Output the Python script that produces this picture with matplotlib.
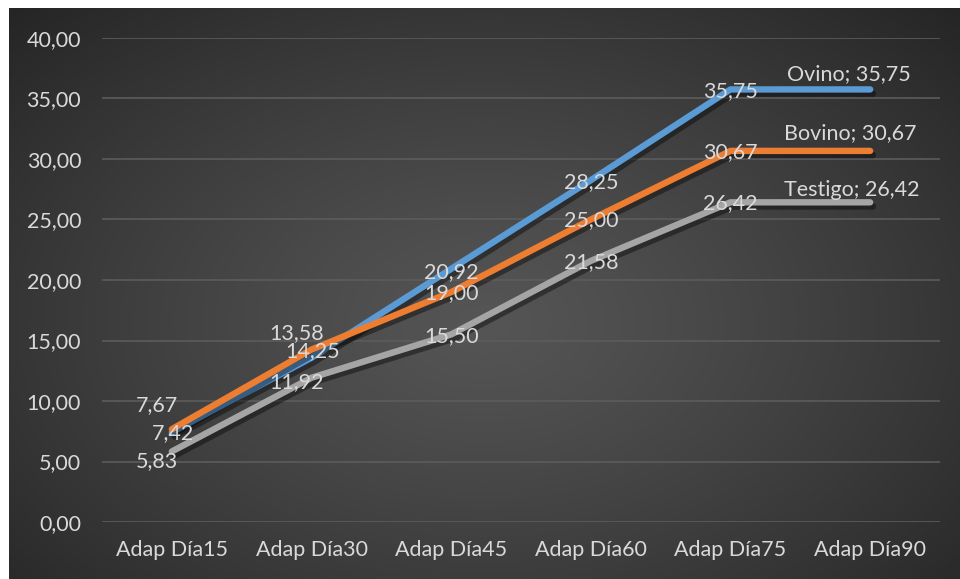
import numpy as np
import matplotlib.pyplot as plt
import matplotlib.patheffects as pe

# categorias y valores de cada serie
dias = ['Adap Día15', 'Adap Día30', 'Adap Día45', 'Adap Día60', 'Adap Día75', 'Adap Día90']
ovino = [7.42, 13.58, 20.92, 28.25, 35.75, 35.75]
bovino = [7.67, 14.25, 19.00, 25.00, 30.67, 30.67]
testigo = [5.83, 11.92, 15.50, 21.58, 26.42, 26.42]
yticks = [0, 5, 10, 15, 20, 25, 30, 35, 40]

plt.rcParams['font.family'] = ['Lato', 'DejaVu Sans']
txt_color = '#d9d9d9'
fsize = 15.5

fig = plt.figure(figsize=(9.6, 5.79), dpi=100)

# fondo oscuro con degradado radial
bg = fig.add_axes([9 / 960, 0, 951 / 960, 571 / 579])
h, w = 571, 951
yy, xx = np.mgrid[0:h, 0:w]
r = np.sqrt(((xx - w * 0.5) / (w * 0.5)) ** 2 + ((yy - h * 0.55) / (h * 0.55)) ** 2) / np.sqrt(2)
shade = 0x55 - (0x55 - 0x25) * np.clip(r, 0, 1) ** 1.2
shade = shade / 255.0
bg.imshow(np.dstack([shade, shade, shade]), aspect='auto', interpolation='bilinear')
bg.axis('off')

ax = fig.add_axes([102 / 960, 1 - 522 / 579, 838 / 960, 484 / 579])
ax.patch.set_alpha(0)
ax.set_xlim(-0.5, 5.5)
ax.set_ylim(0, 40)
for s in ax.spines.values():
    s.set_visible(False)
ax.set_yticks(yticks)
ax.set_yticklabels([f'{v:.2f}'.replace('.', ',') for v in yticks])
ax.set_xticks(range(len(dias)))
ax.set_xticklabels(dias)
ax.tick_params(length=0, colors=txt_color, labelsize=fsize)
ax.tick_params(axis='y', pad=15)
ax.tick_params(axis='x', pad=13)
ax.grid(axis='y', color='#5c5c5c', linewidth=1.2)
ax.set_axisbelow(True)

x = np.arange(len(dias))
shadow = [pe.SimpleLineShadow(offset=(2, -3), shadow_color='black', alpha=0.4), pe.Normal()]

series = [
    ('Ovino', ovino, '#5b9bd5', [(1, -1), (-15, 25), (0, -3), (0, -2), (0, -2), (-21, 15)]),
    ('Bovino', bovino, '#ed7d31', [(-15, 24), (1, -2), (0, -1), (0, -1), (0, -1), (-20, 18)]),
    ('Testigo', testigo, '#a5a5a5', [(-15, -10), (-15, -4), (0, -2), (0, -1), (0, -1), (-18, 12)]),
]

for name, vals, color, offs in series:
    ax.plot(x, vals, color=color, linewidth=4.6, solid_capstyle='round',
            solid_joinstyle='round', path_effects=shadow, zorder=3)
    for i, v in enumerate(vals):
        lbl = f'{v:.2f}'.replace('.', ',')
        if i == len(vals) - 1:
            lbl = f'{name}; {lbl}'
        ax.annotate(lbl, (x[i], v), xytext=offs[i], textcoords='offset pixels',
                    ha='center', va='center', color=txt_color, fontsize=fsize, zorder=5)

fig.savefig('out.png', dpi=100, facecolor='white')
